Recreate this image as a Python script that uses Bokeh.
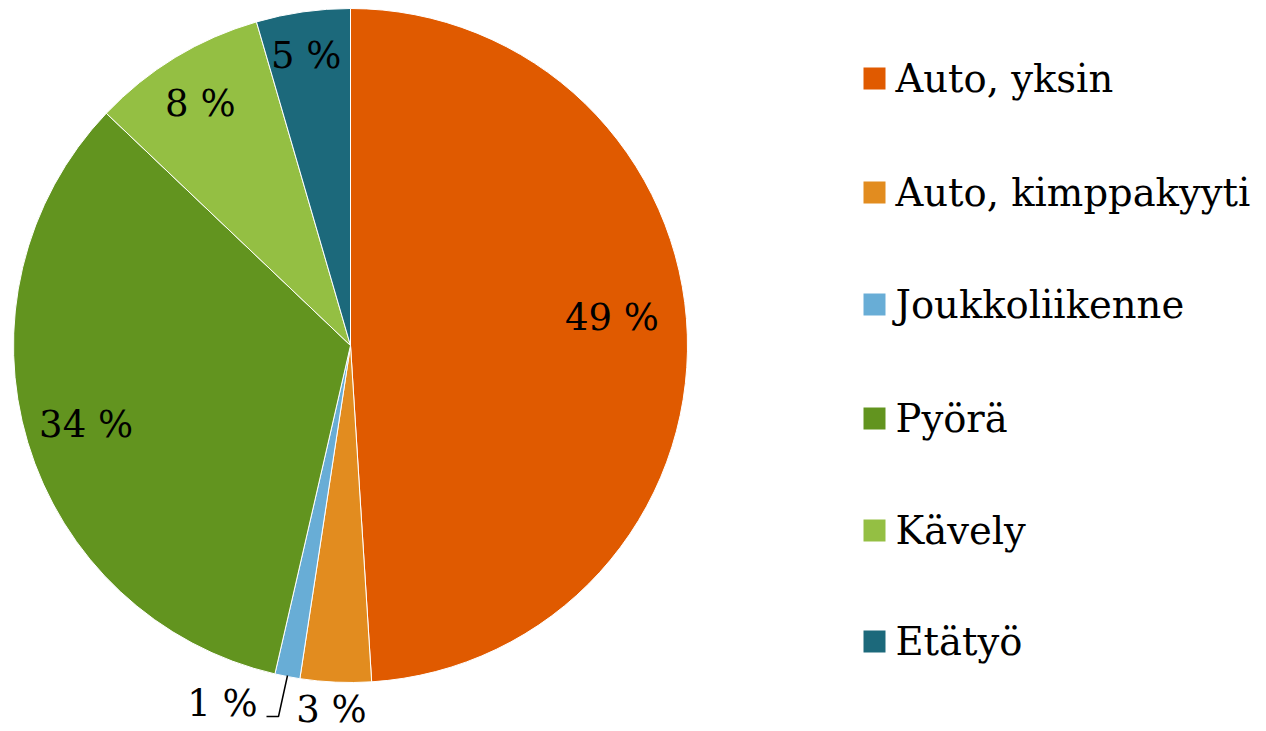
import numpy as np
from bokeh.plotting import figure
from bokeh.models import Range1d, ColumnDataSource
from bokeh.core.properties import value
from bokeh.embed import file_html
from bokeh.resources import INLINE

# ---- data ----
categories = ["Auto, yksin", "Auto, kimppakyyti", "Joukkoliikenne", "Pyörä", "Kävely", "Etätyö"]
shares = [49.0, 3.4, 1.2, 33.5, 8.4, 4.5]
pct_labels = ["49 %", "3 %", "1 %", "34 %", "8 %", "5 %"]
colors = ["#E05A00", "#E28C1F", "#68ADD6", "#62941F", "#94BF43", "#1C697B"]

# ---- layout (screen-like coordinates: x right, y up) ----
W, H = 1266, 731
CX, CY, R = 350, 731 - 345, 337
FONT = value("DejaVu Serif")

p = figure(width=W, height=H, output_backend="svg", toolbar_location=None,
           x_axis_type=None, y_axis_type=None,
           x_range=Range1d(0, W), y_range=Range1d(731 - H, 731),
           min_border=0, outline_line_color=None)
p.grid.visible = False

vals = np.array(shares)
frac = vals / vals.sum()
cum_end = np.cumsum(frac)
cum_start = cum_end - frac
start_angle = np.pi / 2 - 2 * np.pi * cum_end
end_angle = np.pi / 2 - 2 * np.pi * cum_start

src = ColumnDataSource(dict(start=start_angle, end=end_angle, color=colors, cat=categories))
p.wedge(x=CX, y=CY, radius=R, start_angle="start", end_angle="end",
        fill_color="color", line_color="white", line_width=1, source=src)

# inside labels, radial placement (with small per-label vertical nudge)
label_r = [0.785, None, None, 0.81, 0.84, 0.87]
label_dy = [20, 0, 0, 0, 0, 0]
mid = 2 * np.pi * (cum_start + frac / 2)
lx, ly, lt = [], [], []
for i, rr in enumerate(label_r):
    if rr is None:
        continue
    lx.append(CX + rr * R * np.sin(mid[i]) - 3)
    ly.append(CY + rr * R * np.cos(mid[i]) + label_dy[i])
    lt.append(pct_labels[i])
p.text(x=lx, y=ly, text=lt, text_font=FONT, text_font_size="37px",
       text_align="center", text_baseline="middle", text_color="black")

# outside labels for small slices
out_pos = {1: (331, 731 - 709), 2: (222, 731 - 703)}
p.text(x=[out_pos[k][0] for k in out_pos], y=[out_pos[k][1] for k in out_pos],
       text=[pct_labels[k] for k in out_pos], text_font=FONT, text_font_size="37px",
       text_align="center", text_baseline="middle", text_color="black")
# leader line for 1 %
p.line(x=[287, 278, 266], y=[731 - 675, 731 - 716, 731 - 716], line_color="black", line_width=1.5)

# legend (manual)
leg_y = [78, 192, 304, 418, 530, 641]
p.rect(x=[874] * 6, y=[731 - v for v in leg_y], width=22, height=22,
       fill_color=colors, line_color=None)
p.text(x=[895] * 6, y=[731 - v for v in leg_y], text=categories, text_font=FONT,
       text_font_size="38.5px", text_align="left", text_baseline="middle", text_color="black")

open("out.html", "w").write(file_html(p, INLINE))
